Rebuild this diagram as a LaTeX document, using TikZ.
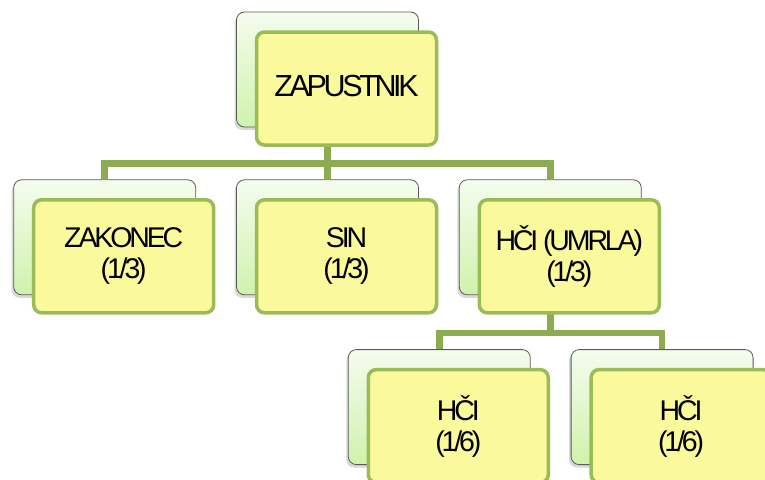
\documentclass[tikz,border=0pt]{standalone}
\usepackage{fontspec}
\newfontfamily\boxfont{Liberation Sans}[LetterSpace=-11]
\usetikzlibrary{positioning,shadows,backgrounds}

\definecolor{frame}{HTML}{9BBB59}
\definecolor{wire}{HTML}{8DAC52}
\definecolor{note}{HTML}{FAFA9C}
\definecolor{cardtop}{HTML}{F4FCEE}
\definecolor{cardbot}{HTML}{D0F2AC}

\begin{document}
\begin{tikzpicture}[x=1pt, y=-1pt,
    card/.style = {draw=black!65, line width=0.8pt, rounded corners=8pt,
      top color=cardtop, bottom color=cardbot,
      minimum width=182pt, minimum height=115pt, inner sep=0pt,
      drop shadow={shadow xshift=-2pt, shadow yshift=-3pt, opacity=0.3}},
    leaf/.style = {draw=frame, line width=3.5pt, rounded corners=8pt, fill=note,
      minimum width=180pt, minimum height=113pt, inner sep=0pt, align=center,
      font=\boxfont\fontsize{28.5}{31}\selectfont},
    link/.style = {draw=wire, line width=6.5pt}]
  \useasboundingbox (0,0) rectangle (765,479);

  % back cards
  \node[card] (rb) at (327.5,69.5) {};
  \node[card, below=52pt of rb] (sb) {};
  \node[card, left=40pt of sb] (zb) {};
  \node[card, right=40pt of sb] (hb) {};
  \node[card, below=54pt of hb, xshift=-111pt] (h1b) {};
  \node[card, right=40pt of h1b] (h2b) {};

  % front notes
  \node[leaf, font=\boxfont\fontsize{30.5}{32}\selectfont, text depth=6pt] (r) at ([shift={(19,19)}]rb) {ZAPUSTNIK};
  \node[leaf] (z) at ([shift={(19,19)}]zb) {ZAKONEC\\(1/3)};
  \node[leaf] (s) at ([shift={(19,19)}]sb) {SIN\\(1/3)};
  \node[leaf] (h) at ([shift={(19,19)}]hb) {HČI (UMRLA)\\(1/3)};
  \node[leaf] (h1) at ([shift={(19,19)}]h1b) {HČI\\(1/6)};
  \node[leaf] (h2) at ([shift={(19,19)}]h2b) {HČI\\(1/6)};

  \begin{scope}[on background layer]
    \draw[link] (rb) -- ++(0,94) coordinate (j);
    \draw[link] (zb.north) |- (j) -| (hb.north);
    \draw[link] (j) -- (sb.north);
    \draw[link] (hb) -- ++(0,95.5) coordinate (k);
    \draw[link] (h1b.north) |- (k) -| (h2b.north);
  \end{scope}
\end{tikzpicture}
\end{document}
